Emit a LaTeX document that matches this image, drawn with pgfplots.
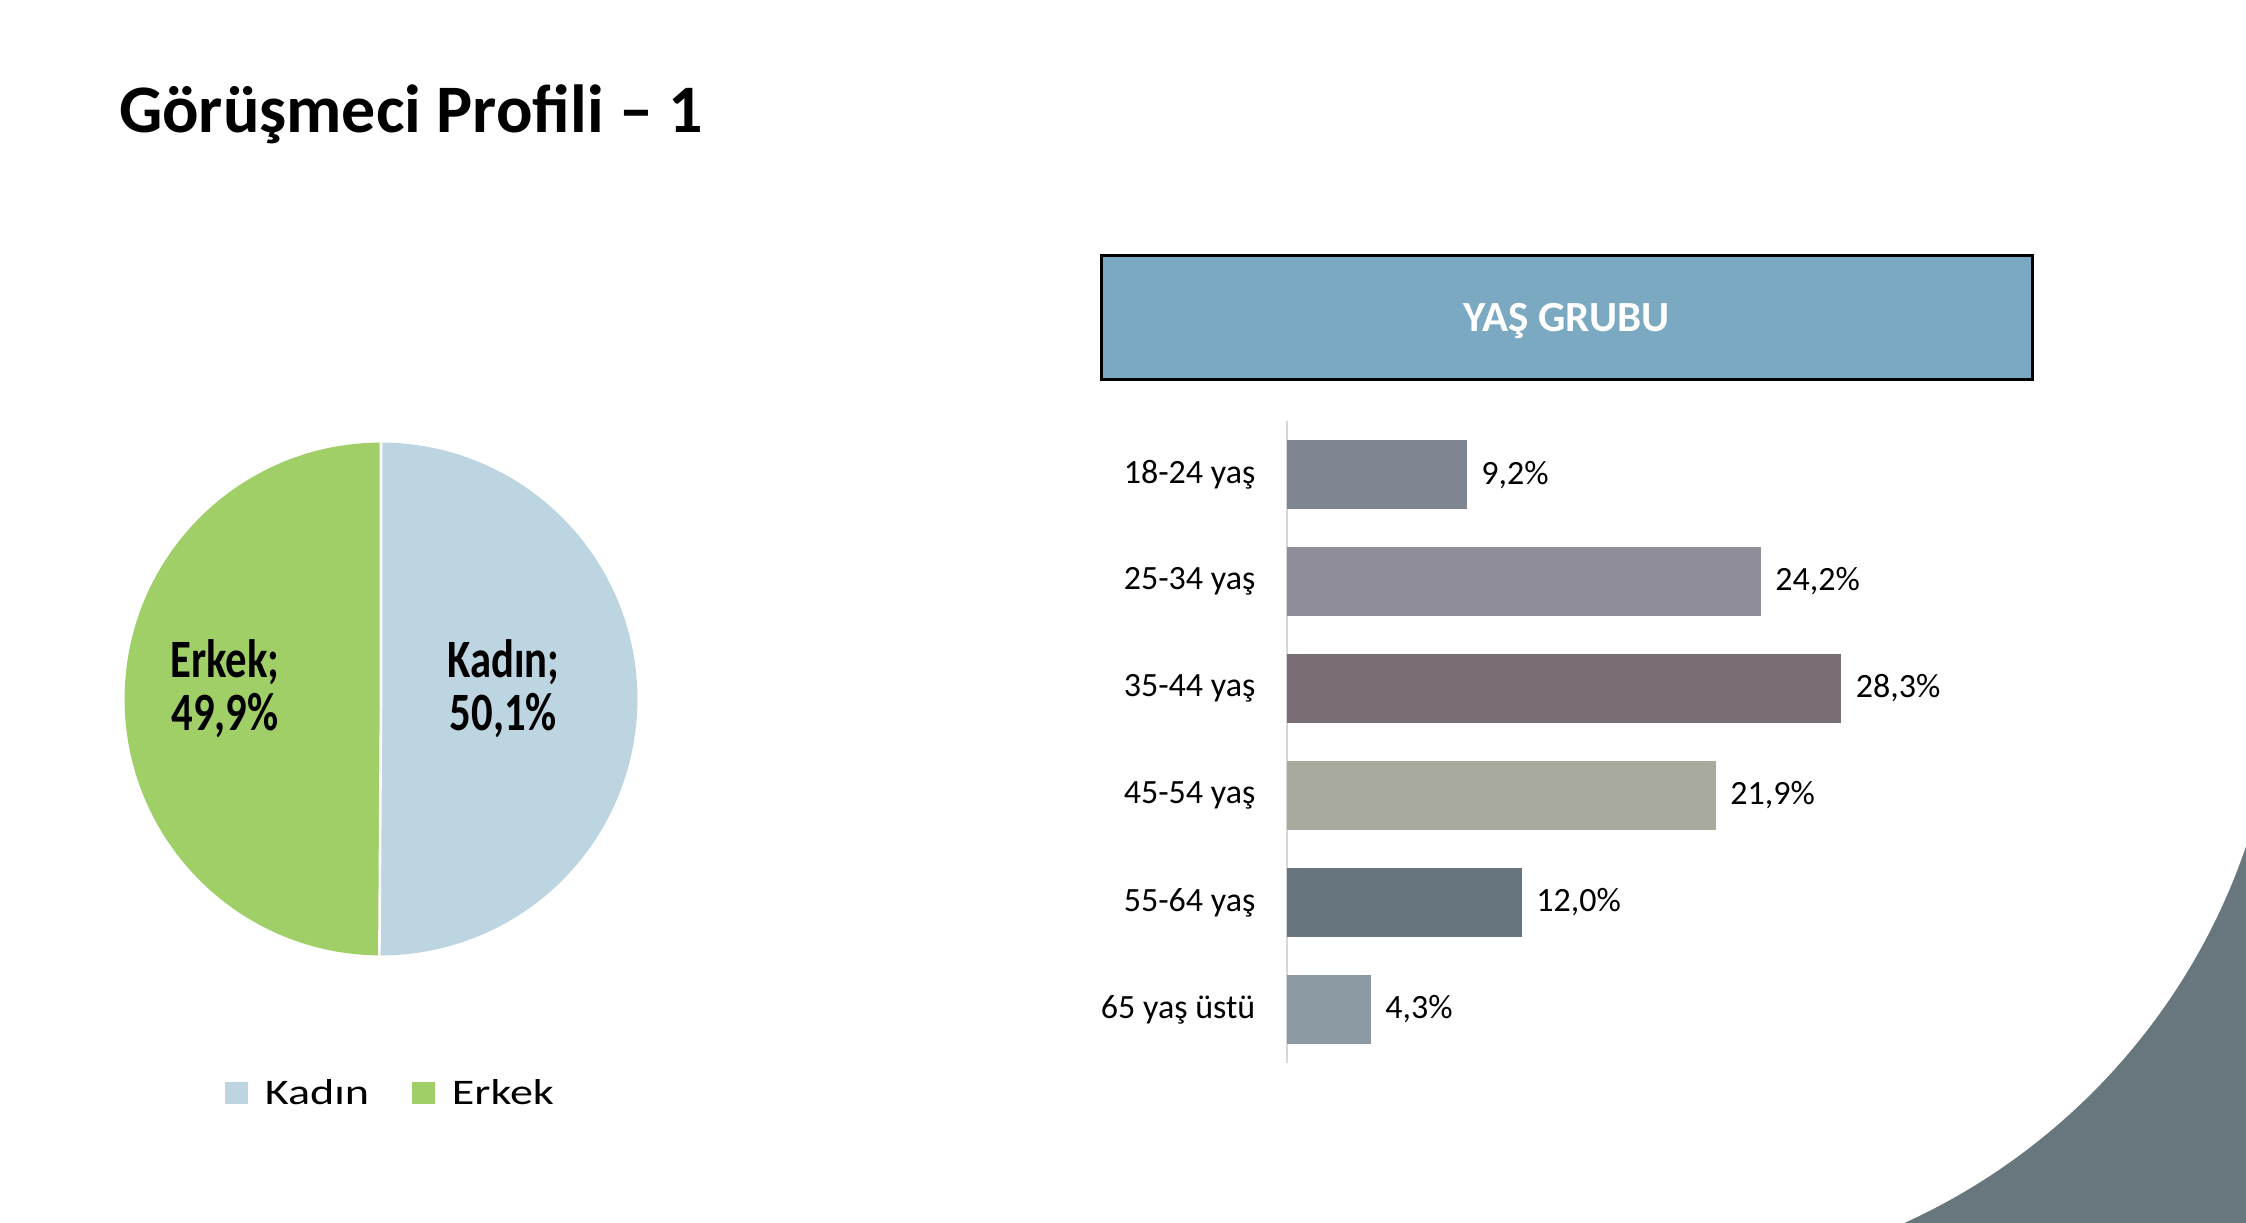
\documentclass[border=0pt]{standalone}
\usepackage{pgfplots}
\pgfplotsset{compat=1.18}
\usepackage{fontspec}
\setmainfont{Carlito}
\newfontfamily\legfont[FakeStretch=1.28]{Carlito}
\newfontfamily\pielabfont[FakeStretch=0.79]{Carlito}
\definecolor{kadin}{HTML}{BDD5E0}
\definecolor{erkek}{HTML}{A0CE67}
\definecolor{header}{HTML}{7BA9C1}
\definecolor{cA}{HTML}{7F8591}
\definecolor{cB}{HTML}{8E8D98}
\definecolor{cC}{HTML}{796E76}
\definecolor{cD}{HTML}{A8AA9E}
\definecolor{cE}{HTML}{67767E}
\definecolor{cF}{HTML}{8C9BA3}
\definecolor{decor}{HTML}{68777E}
\definecolor{axisgray}{HTML}{D6D6D6}
\def\kadinval{50.1}
\def\erkekval{49.9}
\begin{document}
\begin{tikzpicture}
\useasboundingbox (0,0) rectangle (1123pt,611pt);
\fill[white] (0,0) rectangle (1123pt,611pt);
% decorative corner shape
\begin{scope}
\clip (880pt,0pt) rectangle (1123pt,200pt);
\fill[decor, even odd rule] (850pt,-30pt) rectangle (1160pt,240pt) (820pt,291pt) circle (320pt);
\end{scope}
% title
\node[anchor=base west, inner sep=0pt, font=\bfseries\fontsize{34}{40}\selectfont] at (59.3pt,544.5pt) {Görüşmeci Profili – 1};
% header box
\draw[line width=1.5pt, fill=header] (550.75pt,421pt) rectangle (1016.3pt,483pt);
\node[anchor=base, inner sep=0pt, text=white, font=\bfseries\fontsize{21.5}{25}\selectfont] at (783.3pt,445.2pt) {YAŞ GRUBU};
% pie chart
\begin{axis}[at={(190.5pt,261.5pt)}, anchor=center, scale only axis,
  width=256.4pt, height=256.4pt, xmin=-1, xmax=1, ymin=-1, ymax=1,
  hide axis, clip=false,
  legend columns=2,
  legend cell align=left,
  legend image code/.code={\fill[#1, draw=none] (0pt,-5.7pt) rectangle (11.4pt,5.7pt);},
  legend style={at={(rel axis cs:0.196,-0.2685)}, anchor=west, draw=none, fill=none,
    inner sep=0pt, outer sep=0pt, font=\legfont\fontsize{18}{18}\selectfont,
    nodes={inner sep=0pt},
    /tikz/every odd column/.append style={column sep=8.5pt},
    /tikz/every even column/.append style={column sep=21.5pt}}]
\pgfmathsetmacro{\aK}{90-\kadinval*3.6}
\fill[kadin] (axis cs:0,0) -- (axis cs:0,1) arc[start angle=90, end angle=\aK, radius=128.2pt] -- cycle;
\fill[erkek] (axis cs:0,0) -- (axis cs:{cos(\aK)},{sin(\aK)}) arc[start angle=\aK, end angle=-270, radius=128.2pt] -- cycle;
\draw[white, line width=1.3pt] (axis cs:0,1) -- (axis cs:0,0) -- (axis cs:{cos(\aK)},{sin(\aK)});
\node[anchor=base, inner sep=0pt, font=\pielabfont\bfseries\fontsize{27}{30}\selectfont] at (axis cs:-0.608,0.082) {Erkek;};
\node[anchor=base, inner sep=0pt, font=\pielabfont\bfseries\fontsize{27}{30}\selectfont] at (axis cs:-0.608,-0.122) {49,9\%};
\node[anchor=base, inner sep=0pt, font=\pielabfont\bfseries\fontsize{27}{30}\selectfont] at (axis cs:0.477,0.082) {Kadın;};
\node[anchor=base, inner sep=0pt, font=\pielabfont\bfseries\fontsize{27}{30}\selectfont] at (axis cs:0.477,-0.122) {50,1\%};
\addlegendimage{fill=kadin}
\addlegendentry{Kadın}
\addlegendimage{fill=erkek}
\addlegendentry{Erkek}
\end{axis}
% bar chart
\begin{axis}[at={(643.35pt,79.55pt)}, anchor=south west, scale only axis,
  width=294pt, height=320.9pt,
  xbar, bar width=34.4pt, bar shift=0pt,
  xmin=0, xmax=30, ymin=-0.5, ymax=5.5, y dir=reverse,
  axis x line=none, axis y line*=left,
  y axis line style={draw=axisgray, line width=1pt},
  ytick={0,1,2,3,4,5},
  yticklabels={18-24 yaş, 25-34 yaş, 35-44 yaş, 45-54 yaş, 55-64 yaş, 65 yaş üstü},
  major tick length=0pt,
  yticklabel style={anchor=east, inner sep=0pt, xshift=-15.5pt, font=\fontsize{17}{20}\selectfont},
  clip=false,
  point meta=x,
  /pgf/number format/assume math mode=true,
  nodes near coords={\pgfmathprintnumber[fixed,fixed zerofill,precision=1,use comma]{\pgfplotspointmeta}\%},
  every node near coord/.append style={anchor=west, inner sep=0pt, xshift=7pt, font=\fontsize{17}{20}\selectfont, text=black},
]
\addplot[fill=cA, draw=none] coordinates {(9.2,0)};
\addplot[fill=cB, draw=none] coordinates {(24.2,1)};
\addplot[fill=cC, draw=none] coordinates {(28.3,2)};
\addplot[fill=cD, draw=none] coordinates {(21.9,3)};
\addplot[fill=cE, draw=none] coordinates {(12.0,4)};
\addplot[fill=cF, draw=none] coordinates {(4.3,5)};
\end{axis}
\end{tikzpicture}
\end{document}
